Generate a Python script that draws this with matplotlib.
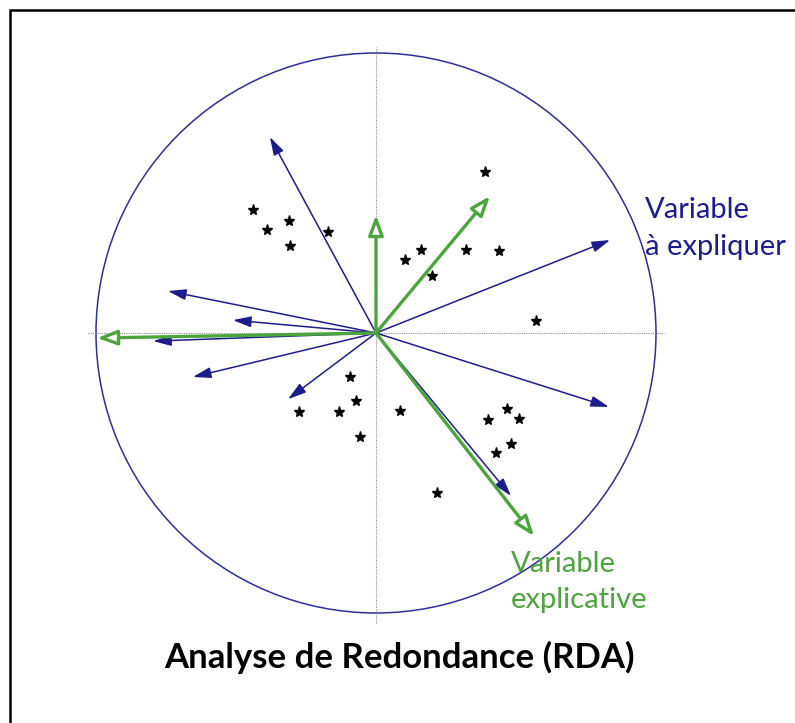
import numpy as np
import matplotlib
matplotlib.use("Agg")
import matplotlib.pyplot as plt
from matplotlib.patches import Circle, Rectangle

# =====================================
# DATA (RDA scores, unit correlation circle)
# =====================================

# response variables (blue arrows)
resp_x = [-0.379, 0.836, -0.743, -0.511, -0.796, -0.654, -0.314, 0.832, 0.482]
resp_y = [0.700, 0.332, 0.150, 0.046, -0.029, -0.157, -0.236, -0.264, -0.582]

# explanatory variables (green arrows)
expl_x = [0.000, 0.407, -0.996, 0.564]
expl_y = [0.421, 0.489, -0.018, -0.725]

# sites
site_x = [0.389, -0.439, -0.311, -0.389, -0.307, -0.171, 0.104, 0.161,
          0.321, 0.439, 0.200, 0.571, -0.093, -0.071, -0.275, -0.132,
          -0.057, 0.086, 0.468, 0.400, 0.511, 0.482, 0.429, 0.218]
site_y = [0.575, 0.439, 0.400, 0.368, 0.311, 0.361, 0.261, 0.296,
          0.296, 0.293, 0.204, 0.043, -0.157, -0.243, -0.282, -0.282,
          -0.371, -0.279, -0.271, -0.311, -0.307, -0.396, -0.429, -0.571]

title = "Analyse de Redondance (RDA)"
resp_lines = ["Variable", "à expliquer"]
expl_lines = ["Variable", "explicative"]

NAVY = "#1c1c8c"
GREEN = "#4ca43c"

plt.rcParams["font.family"] = ["Lato", "DejaVu Sans"]

W, H = 795, 723
fig = plt.figure(figsize=(W / 100, H / 100), dpi=100)
ax = fig.add_axes([0, 0, 1, 1])

# 280 px per unit, origin at (376, 333) px
s = 280.0
ax.set_xlim(-376 / s, (W - 376) / s)
ax.set_ylim(-(H - 333) / s, 333 / s)
ax.axis("off")


def px(x, y):
    # pixel position -> data units
    return (x - 376) / s, (333 - y) / s


# =====================================
# FRAME
# =====================================

fig.patches.append(Rectangle((10 / W, -0.2), 1.2, 1.2 - 10 / H,
                             transform=fig.transFigure, fill=False,
                             edgecolor="black", linewidth=1.8))

# =====================================
# AXES + CIRCLE
# =====================================

ax.plot([-1.03, 1.03], [0, 0], color="#8c8c8c", lw=0.8, ls=(0, (1, 1)))
ax.plot([0, 0], [-1.035, 1.02], color="#8c8c8c", lw=0.8, ls=(0, (1, 1)))
ax.add_patch(Circle((0, 0), 1.0, fill=False, edgecolor="#2e2e98", lw=1.1))

# =====================================
# SITES
# =====================================

ax.plot(site_x, site_y, ls="none", marker="*", ms=8, color="black")

# =====================================
# ARROWS
# =====================================

for x, y in zip(resp_x, resp_y):
    ax.annotate("", xy=(x, y), xytext=(0, 0),
                arrowprops=dict(arrowstyle="-|>,head_length=1.1,head_width=0.33",
                                color=NAVY, lw=1.1, shrinkA=0, shrinkB=0))

for x, y in zip(expl_x, expl_y):
    ax.annotate("", xy=(x, y), xytext=(0, 0),
                arrowprops=dict(arrowstyle="-|>,head_length=1.2,head_width=0.45",
                                edgecolor=GREEN, facecolor="white", lw=2.4,
                                shrinkA=0, shrinkB=0))

# =====================================
# TEXT
# =====================================

for line, yb in zip(resp_lines, [218, 255]):
    ax.text(*px(645, yb), line, color=NAVY, fontsize=21,
            ha="left", va="baseline")
for line, yb in zip(expl_lines, [572, 608]):
    ax.text(*px(511, yb), line, color=GREEN, fontsize=21,
            ha="left", va="baseline")

fig.text(399 / W, 1 - 668 / H, title, fontsize=25, fontweight="bold",
         ha="center", va="baseline")

fig.savefig("out.png", dpi=100)
